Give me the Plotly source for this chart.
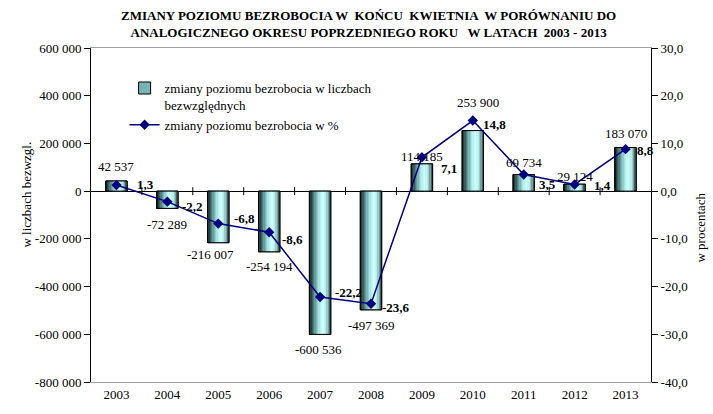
import plotly.graph_objects as go

# ---------------- data ----------------
years = [2003, 2004, 2005, 2006, 2007, 2008, 2009, 2010, 2011, 2012, 2013]
abs_change = [42537, -72289, -216007, -254194, -600536, -497369, 114185, 253900, 69734, 29124, 183070]
pct_change = [1.3, -2.2, -6.8, -8.6, -22.2, -23.6, 7.1, 14.8, 3.5, 1.4, 8.8]

left_tickvals = [600000, 400000, 200000, 0, -200000, -400000, -600000, -800000]
left_ticktext = ["600 000", "400 000", "200 000", "0", "-200 000", "-400 000", "-600 000", "-800 000"]
right_tickvals = [30, 20, 10, 0, -10, -20, -30, -40]
right_ticktext = ["30,0", "20,0", "10,0", "0,0", "-10,0", "-20,0", "-30,0", "-40,0"]

title_text = ("ZMIANY POZIOMU BEZROBOCIA W  KOŃCU  KWIETNIA  W PORÓWNANIU DO<br>"
              "ANALOGICZNEGO OKRESU POPRZEDNIEGO ROKU   W LATACH  2003 - 2013")
bar_name = "zmiany poziomu bezrobocia w liczbach<br>bezwzględnych"
line_name = "zmiany poziomu bezrobocia w %"

# ---------------- style ----------------
FONT = "Liberation Serif"
TF = dict(family=FONT, size=13, color="black")
W = 0.42
N = 16
stops = [(0.0, (12, 22, 22)), (0.12, (45, 75, 75)), (0.3, (110, 165, 165)),
         (0.5, (180, 238, 238)), (0.66, (206, 255, 255)), (0.8, (180, 232, 232)),
         (0.92, (110, 150, 150)), (1.0, (40, 58, 58))]

def grad(t):
    for (t0, c0), (t1, c1) in zip(stops[:-1], stops[1:]):
        if t0 <= t <= t1:
            f = (t - t0) / (t1 - t0)
            return "rgb(%d,%d,%d)" % tuple(round(a + (b - a) * f) for a, b in zip(c0, c1))
    return "rgb(%d,%d,%d)" % stops[-1][1]

# label offsets in pixels (style only)
bar_lab_dx = [0, 0, -8, 0, -2, 0, 0, 5, 0, 0, 0]
bar_lab_dy = [14, -16, -12, -15, -15, -16, 7, 28, 12, 8, 14]
pct_lab_dx = [29, 25, 26, 23, 28, 25, 27, 22, 24, 28, 20]
pct_lab_dy = [0, -5, 5, -7, 5, -4, -11, -4, -10, -1, -1]

fig = go.Figure()

# base bar (legend entry)
fig.add_trace(go.Bar(x=years, y=abs_change, width=W, offset=-W / 2, name=bar_name,
                     marker=dict(color="rgb(120,180,180)", line=dict(color="black", width=1)),
                     showlegend=True, hoverinfo="skip"))
# gradient strips
for i in range(N):
    fig.add_trace(go.Bar(x=years, y=abs_change, width=W / N + 0.002, offset=-W / 2 + i * W / N,
                         marker=dict(color=grad((i + 0.5) / N), line=dict(width=0)),
                         showlegend=False, hoverinfo="skip"))
# outline
fig.add_trace(go.Bar(x=years, y=abs_change, width=W, offset=-W / 2,
                     marker=dict(color="rgba(0,0,0,0)", line=dict(color="black", width=1)),
                     showlegend=False, hoverinfo="skip"))

fig.add_trace(go.Scatter(x=years, y=pct_change, yaxis="y2", name=line_name,
                         mode="lines+markers",
                         line=dict(color="#000080", width=1.5),
                         marker=dict(symbol="diamond", size=8, color="#000080")))

annotations = []
for i, (yr, v) in enumerate(zip(years, abs_change)):
    annotations.append(dict(x=yr, y=v, xref="x", yref="y", text=f"{v:,}".replace(",", " "),
                            showarrow=False, xshift=bar_lab_dx[i], yshift=bar_lab_dy[i], font=TF))
for i, (yr, p) in enumerate(zip(years, pct_change)):
    annotations.append(dict(x=yr, y=p, xref="x", yref="y2", text="<b>" + f"{p:.1f}".replace(".", ",") + "</b>",
                            showarrow=False, xshift=pct_lab_dx[i], yshift=pct_lab_dy[i], font=TF))
annotations.append(dict(x=-0.132, y=0.56, xref="paper", yref="paper", text="w liczbach bezwzgl.",
                        textangle=-90, showarrow=False, font=TF))
annotations.append(dict(x=1.106, y=0.462, xref="paper", yref="paper", text="w procentach",
                        textangle=-90, showarrow=False, font=TF))
annotations.append(dict(x=0.495, y=(342 + 48 - 5) / 342, xref="paper", yref="paper",
                        xanchor="center", yanchor="top", showarrow=False,
                        text="<b>" + title_text + "</b>", font=TF))

# category tick marks along the zero line
shapes = []
for a, b in zip(years[:-1], years[1:]):
    xb = (a + b) / 2
    shapes.append(dict(type="line", xref="x", yref="y", x0=xb, x1=xb, y0=-4, y1=4,
                       ysizemode="pixel", yanchor=0, line=dict(color="black", width=1)))

fig.update_layout(
    width=713, height=414,
    margin=dict(l=91, r=62, t=48, b=24),
    paper_bgcolor="white", plot_bgcolor="white",
    barmode="overlay",
    font=TF,
    xaxis=dict(range=[years[0] - 0.5, years[-1] + 0.5], tickvals=years,
               ticktext=[str(y) for y in years], showgrid=False, zeroline=False,
               showline=True, linecolor="#a0a0a0", linewidth=1, mirror=True, ticks="",
               tickfont=TF),
    yaxis=dict(range=[-800000, 600000], tickvals=left_tickvals, ticktext=left_ticktext,
               showgrid=False, zeroline=True, zerolinecolor="black", zerolinewidth=1,
               showline=True, linecolor="black", linewidth=1, ticks="outside",
               ticklen=6, tickcolor="black", tickfont=TF),
    yaxis2=dict(range=[-40, 30], tickvals=right_tickvals, ticktext=right_ticktext,
                overlaying="y", side="right", showgrid=False, zeroline=False,
                showline=True, linecolor="black", linewidth=1, ticks="outside",
                ticklen=6, tickcolor="black", tickfont=TF),
    legend=dict(x=0.06, y=0.925, xanchor="left", yanchor="top", bgcolor="rgba(0,0,0,0)",
                font=TF, valign="top", traceorder="normal", tracegroupgap=0),
    annotations=annotations,
    shapes=shapes,
)

fig.write_html("out.html", config={"displayModeBar": False},
               post_script="document.body.style.margin='0';")
